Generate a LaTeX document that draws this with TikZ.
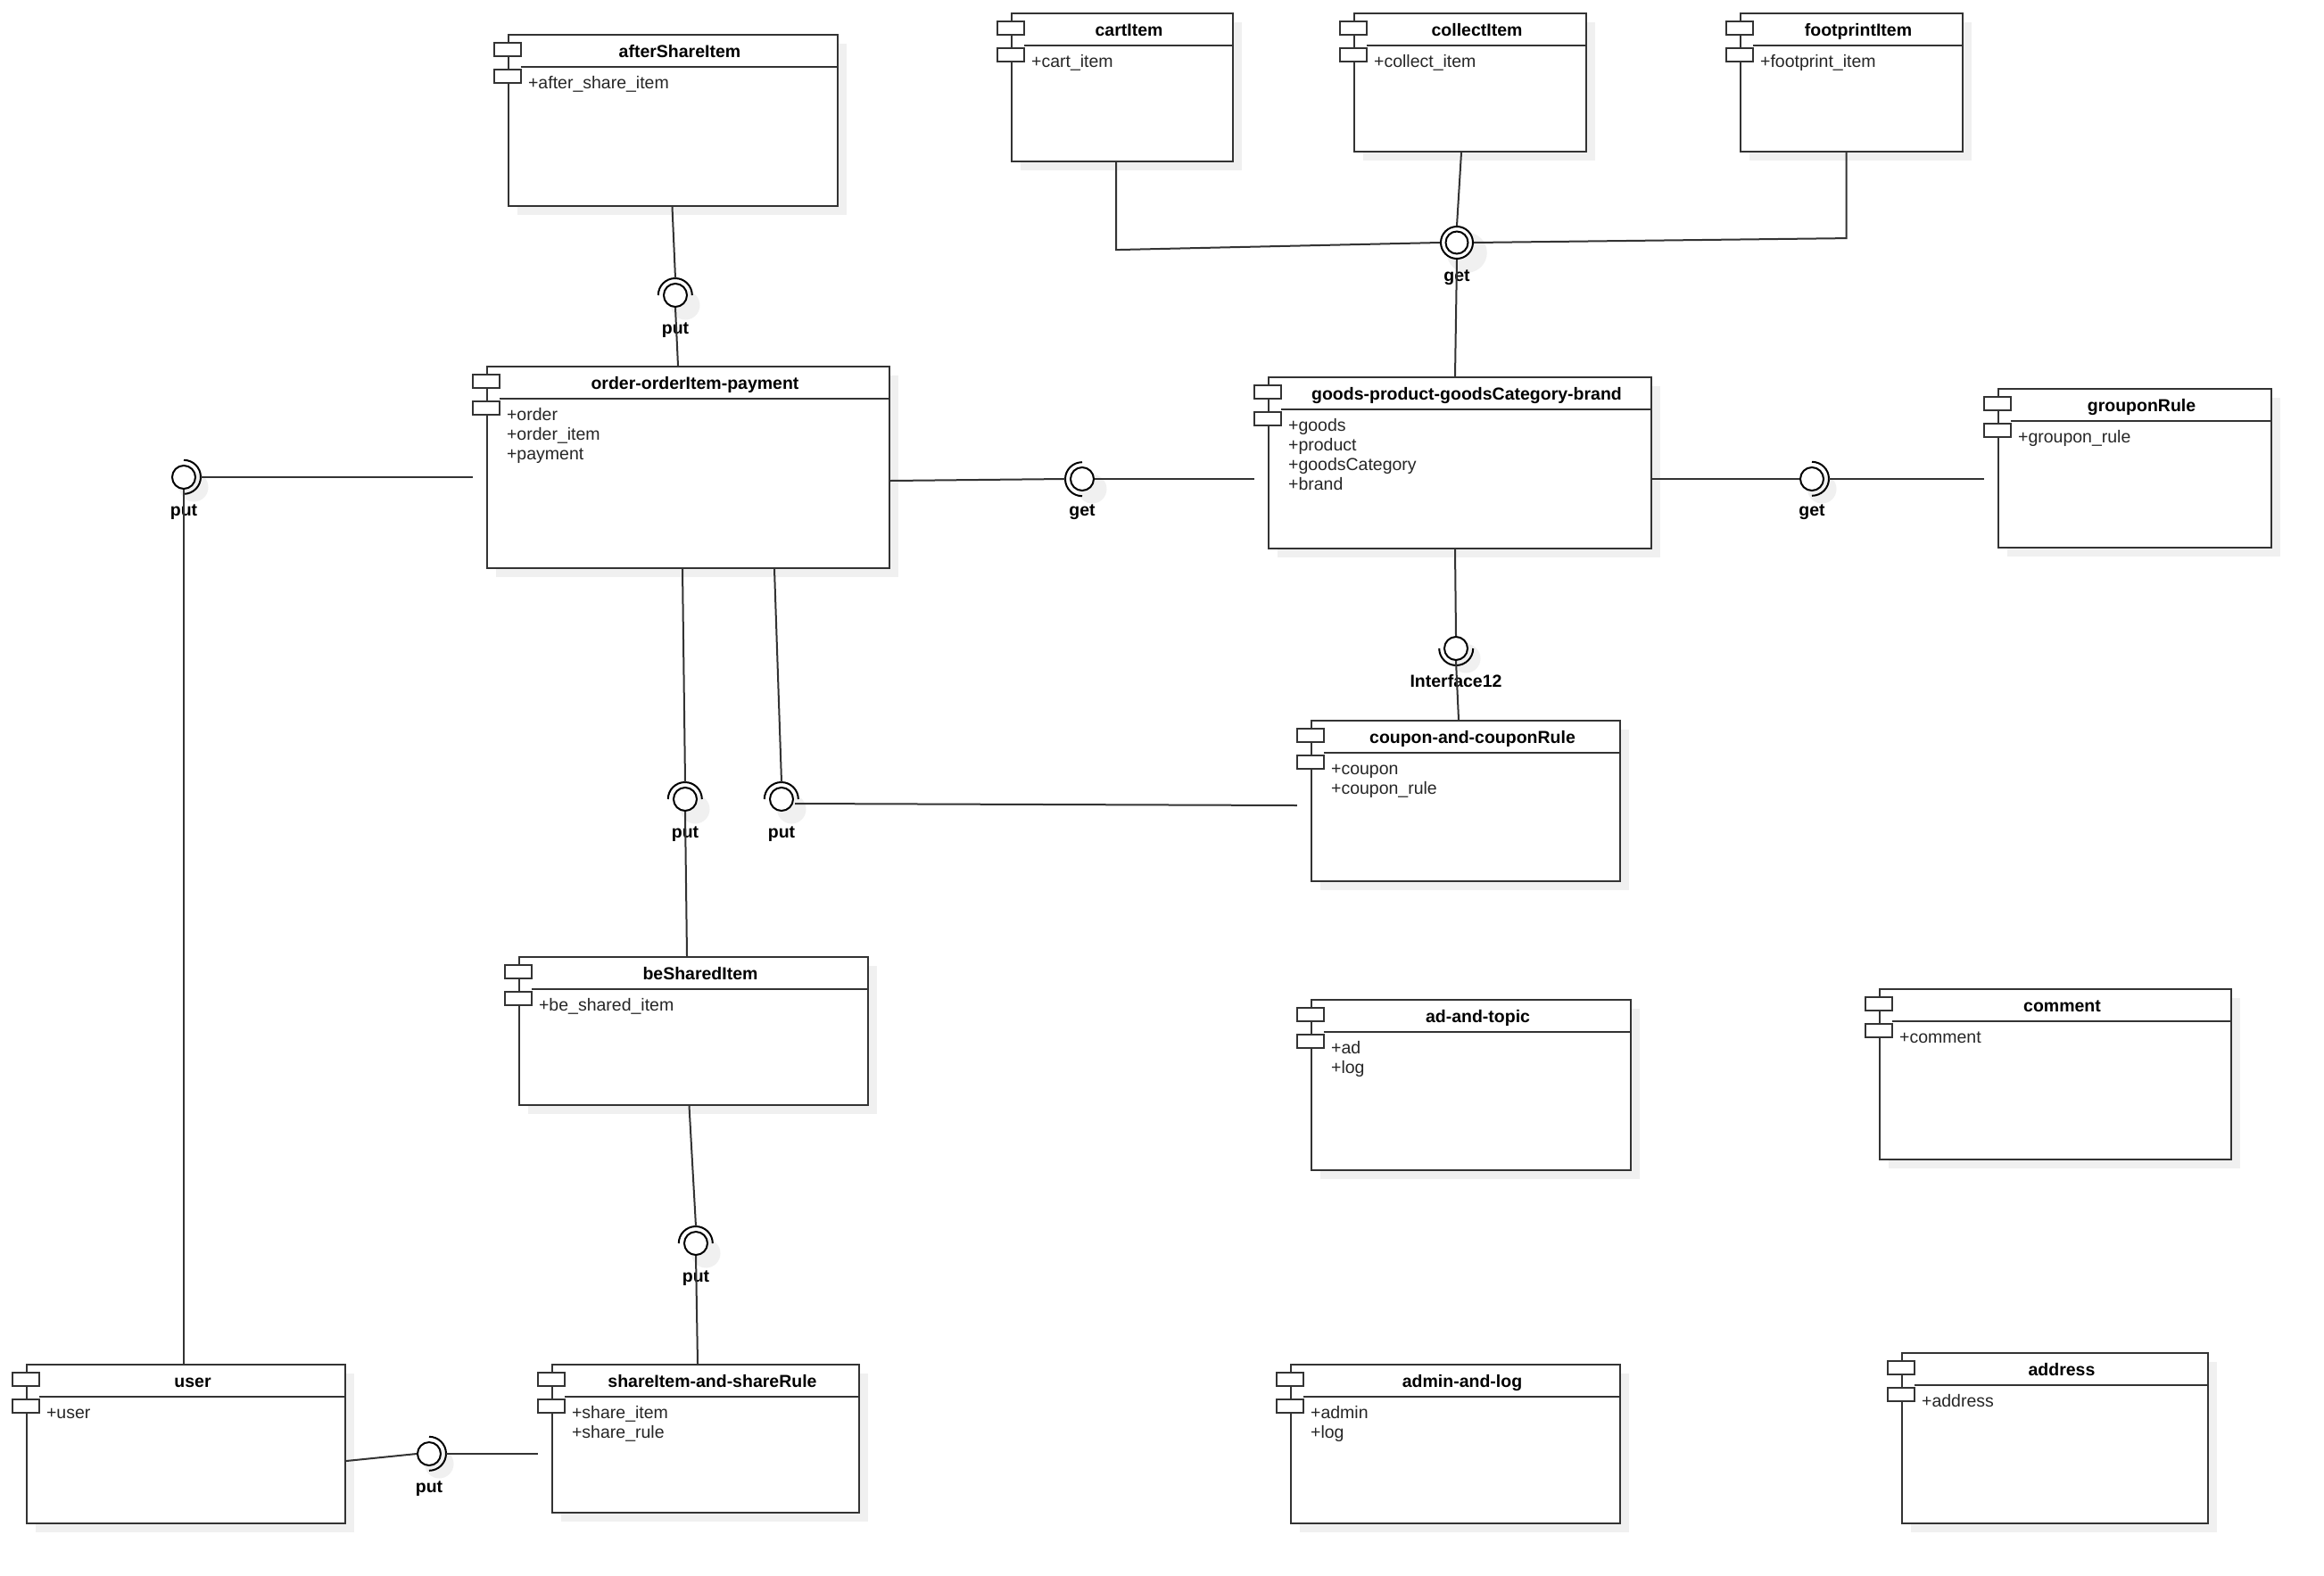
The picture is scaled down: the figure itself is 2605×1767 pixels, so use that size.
\documentclass[tikz,border=0pt]{standalone}
\usepackage{fontspec}
\setmainfont{Liberation Sans}
\usetikzlibrary{shadows}
\definecolor{lineclr}{HTML}{333333}
\definecolor{shadowclr}{HTML}{F0F0F0}
\newcommand{\umlcomp}[7]{%
  \node [comp, minimum width={#4-#2}, minimum height={#5-#3}] (#1) at ({(#2+#4)/2},{(#3+#5)/2}) {};
  \draw [conn] ([shift={(15,37)}]#1.north west) -- ([shift={(0,37)}]#1.north east);
  \draw [icon] ([shift={(-15,10)}]#1.north west) rectangle ++(30,15);
  \draw [icon] ([shift={(-15,40)}]#1.north west) rectangle ++(30,15);
  \node [ctitle] at ([shift={(7.5,27)}]#1.north) {#6};
  \foreach \attr [count=\i] in {#7}
    \node [cbody] at ([shift={(23,{40+22*\i})}]#1.north west) {\attr};
}
\begin{document}
\begin{tikzpicture}[x=1pt, y=-1pt,
    comp/.style={rectangle, draw=lineclr, line width=2.2pt, fill=white, inner sep=0,
      drop shadow={fill=shadowclr, opacity=1, shadow xshift=10pt, shadow yshift=-10pt}},
    conn/.style={draw=lineclr, line width=2pt},
    icon/.style={draw=lineclr, line width=1.8pt, fill=white},
    ctitle/.style={anchor=base, inner sep=0, font=\fontsize{19.5}{22}\selectfont\bfseries},
    cbody/.style={anchor=base west, inner sep=0, text=black!85, font=\fontsize{19.5}{22}\selectfont},
    ball/.style={circle, draw=black, line width=2pt, fill=white, inner sep=0, minimum size=26pt,
      drop shadow={fill=shadowclr, opacity=1, shadow xshift=9pt, shadow yshift=-9pt, shadow scale=1.25}},
    sock/.style={circle, inner sep=0, minimum size=38pt},
    socket/.style={draw=black, line width=2pt},
    ilabel/.style={anchor=base, inner sep=0, font=\fontsize{19.5}{22}\selectfont\bfseries}]
  \useasboundingbox [fill=white] (0,0) rectangle (2605,1767);

  \umlcomp{after}{570}{39}{939}{231}{afterShareItem}{+after\_share\_item}
  \umlcomp{cart}{1134}{15}{1382}{181}{cartItem}{+cart\_item}
  \umlcomp{collect}{1518}{15}{1778}{170}{collectItem}{+collect\_item}
  \umlcomp{footprint}{1951}{15}{2200}{170}{footprintItem}{+footprint\_item}
  \umlcomp{order}{546}{411}{997}{637}{order-orderItem-payment}{+order,+order\_item,+payment}
  \umlcomp{goods}{1422}{423}{1851}{615}{goods-product-goodsCategory-brand}{+goods,+product,+goodsCategory,+brand}
  \umlcomp{groupon}{2240}{436}{2546}{614}{grouponRule}{+groupon\_rule}
  \umlcomp{coupon}{1470}{808}{1816}{988}{coupon-and-couponRule}{+coupon,+coupon\_rule}
  \umlcomp{shared}{582}{1073}{973}{1239}{beSharedItem}{+be\_shared\_item}
  \umlcomp{ad}{1470}{1121}{1828}{1312}{ad-and-topic}{+ad,+log}
  \umlcomp{comment}{2107}{1109}{2501}{1300}{comment}{+comment}
  \umlcomp{user}{30}{1530}{387}{1708}{user}{+user}
  \umlcomp{share}{619}{1530}{963}{1696}{shareItem-and-shareRule}{+share\_item,+share\_rule}
  \umlcomp{admin}{1447}{1530}{1816}{1708}{admin-and-log}{+admin,+log}
  \umlcomp{address}{2132}{1517}{2475}{1708}{address}{+address}

  % afterShareItem -> order
  \node [ball] (bA) at (757,331) {};
  \node [sock] (sA) at (bA) {};
  \draw [socket] (sA.west) arc (180:360:19);
  \node [ilabel] at ([shift={(0,43)}]bA.center) {put};
  \draw [conn] ([xshift=-1pt]after.south) -- (sA.north);
  \draw [conn] (bA.south) -- ([xshift=3pt]bA |- order.north);

  % order -> user
  \node [ball] (bB) at (206,535) {};
  \node [sock] (sB) at (bB) {};
  \draw [socket] (sB.north) arc (270:450:19);
  \node [ilabel] at ([shift={(0,43)}]bB.center) {put};
  \draw [conn] (sB.east) -- ([xshift=-15pt]sB.east -| order.west);
  \draw [conn] (bB.south) -- (bB |- user.north);

  % order -> goods
  \node [ball] (bC) at (1213,537) {};
  \node [sock] (sC) at (bC) {};
  \draw [socket] (sC.south) arc (90:270:19);
  \node [ilabel] at ([shift={(0,41)}]bC.center) {get};
  \draw [conn] ([yshift=-2pt]order.east |- sC.west) -- (sC.west);
  \draw [conn] (bC.east) -- ([xshift=-15pt]bC.east -| goods.west);

  % goods -> grouponRule
  \node [ball] (bD) at (2031,537) {};
  \node [sock] (sD) at (bD) {};
  \draw [socket] (sD.north) arc (270:450:19);
  \node [ilabel] at ([shift={(0,41)}]bD.center) {get};
  \draw [conn] (goods.east |- bD.west) -- (bD.west);
  \draw [conn] (sD.east) -- ([xshift=-15pt]sD.east -| groupon.west);

  % cart, collect, footprint -> goods
  \node [ball, minimum size=36pt] (gE) at (1633,272) {};
  \draw [socket] (gE.center) circle (12.5);
  \node [ilabel] at ([shift={(0,43)}]gE.center) {get};
  \draw [conn] ([xshift=-7pt]cart.south) -- ++(0,98) -- (gE.west);
  \draw [conn] ([xshift=-10pt]collect.south) -- (gE.north);
  \draw [conn] ([xshift=-6pt]footprint.south) -- ++(0,96) -- (gE.east);
  \draw [conn] (gE.south) -- ([xshift=-2pt]gE |- goods.north);

  % goods -> coupon
  \node [ball] (bF) at (1632,727) {};
  \node [sock] (sF) at (bF) {};
  \draw [socket] (sF.east) arc (0:180:19);
  \node [ilabel] at ([shift={(0,43)}]bF.center) {Interface12};
  \draw [conn] ([xshift=-1pt]bF |- goods.south) -- (bF.north);
  \draw [conn] (bF.south) -- ([xshift=3pt]bF |- coupon.north);

  % order -> beSharedItem
  \node [ball] (bG) at (768,896) {};
  \node [sock] (sG) at (bG) {};
  \draw [socket] (sG.west) arc (180:360:19);
  \node [ilabel] at ([shift={(0,43)}]bG.center) {put};
  \draw [conn] ([xshift=-3pt]sG.north |- order.south) -- (sG.north);
  \draw [conn] (bG.south) -- ([xshift=2pt]bG |- shared.north);

  % order -> coupon
  \node [ball] (bH) at (876,896) {};
  \node [sock] (sH) at (bH) {};
  \draw [socket] (sH.west) arc (180:360:19);
  \node [ilabel] at ([shift={(0,43)}]bH.center) {put};
  \draw [conn] ([xshift=-8pt]sH.north |- order.south) -- (sH.north);
  \draw [conn] ([shift={(1,5)}]bH.east) -- ([shift={(-15,7)}]bH.east -| coupon.west);

  % beSharedItem -> shareItem
  \node [ball] (bI) at (780,1394) {};
  \node [sock] (sI) at (bI) {};
  \draw [socket] (sI.west) arc (180:360:19);
  \node [ilabel] at ([shift={(0,43)}]bI.center) {put};
  \draw [conn] ([xshift=-5pt]shared.south) -- (sI.north);
  \draw [conn] (bI.south) -- ([xshift=2pt]bI |- share.north);

  % user -> shareItem
  \node [ball] (bJ) at (481,1630) {};
  \node [sock] (sJ) at (bJ) {};
  \draw [socket] (sJ.north) arc (270:450:19);
  \node [ilabel] at ([shift={(0,43)}]bJ.center) {put};
  \draw [conn] ([yshift=-8pt]user.east |- bJ.west) -- (bJ.west);
  \draw [conn] (sJ.east) -- ([xshift=-15pt]sJ.east -| share.west);
\end{tikzpicture}
\end{document}
